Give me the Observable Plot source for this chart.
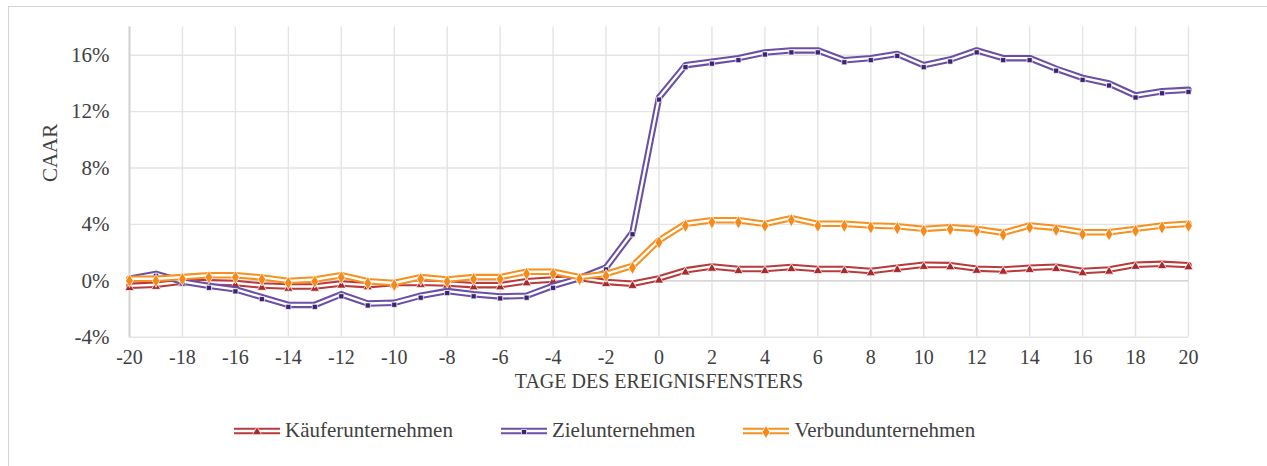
<!DOCTYPE html>
<html>
<head>
<meta charset="utf-8">
<script src="https://cdn.jsdelivr.net/npm/d3@7"></script>
<script src="https://cdn.jsdelivr.net/npm/@observablehq/plot@0.6"></script>
<style>
  html, body { margin: 0; padding: 0; background: #fff; overflow: hidden; }
  #frame { position: absolute; left: 8px; top: 6px; width: 1300px; height: 500px; border: 1px solid #d4d4d4; box-sizing: border-box; }
  #chart { position: absolute; left: 0; top: 0; }
  #legend { position: absolute; left: 232px; top: 418px; display: flex; gap: 46px; align-items: center;
            font-family: 'Liberation Serif', serif; font-size: 21px; color: #404040; }
  .item { display: flex; align-items: center; gap: 3px; white-space: nowrap; }
</style>
</head>
<body>
<div id="frame"></div>
<div id="chart"></div>
<div id="legend"></div>
<script>
const days = [-20,-19,-18,-17,-16,-15,-14,-13,-12,-11,-10,-9,-8,-7,-6,-5,-4,-3,-2,-1,0,1,2,3,4,5,6,7,8,9,10,11,12,13,14,15,16,17,18,19,20];

const kaeufer = [-0.5,-0.42,-0.2,-0.25,-0.3,-0.48,-0.55,-0.55,-0.33,-0.45,-0.3,-0.28,-0.33,-0.45,-0.45,-0.17,-0.05,0.05,-0.22,-0.35,0.03,0.6,0.87,0.7,0.7,0.84,0.7,0.7,0.55,0.78,1.0,0.97,0.72,0.66,0.78,0.85,0.55,0.66,1.0,1.06,0.97];

const ziel = [0.0,0.35,-0.2,-0.5,-0.75,-1.3,-1.85,-1.85,-1.1,-1.75,-1.7,-1.2,-0.87,-1.1,-1.25,-1.2,-0.5,0.05,0.8,3.3,12.85,15.15,15.4,15.65,16.05,16.2,16.2,15.5,15.65,15.95,15.15,15.55,16.2,15.65,15.65,14.9,14.25,13.85,13.0,13.3,13.4];

const verbund = [0.0,0.0,0.12,0.25,0.25,0.1,-0.15,-0.05,0.25,-0.17,-0.3,0.12,-0.05,0.12,0.12,0.5,0.5,0.12,0.35,0.92,2.72,3.9,4.15,4.15,3.9,4.3,3.9,3.9,3.78,3.73,3.54,3.66,3.54,3.26,3.78,3.61,3.3,3.3,3.54,3.78,3.9];

const seriesNames = ["Käuferunternehmen", "Zielunternehmen", "Verbundunternehmen"];
const seriesValues = [kaeufer, ziel, verbund];
const lineColors = ["#b83a3a", "#6a4fa6", "#f7901e"];
const markerColors = ["#a8282b", "#3d2175", "#f5891a"];
const symbols = ["triangle", "square", "diamond"];
const markerR = [3.4, 2.9, 4.0];

const yTicks = [-4, 0, 4, 8, 12, 16];
const xTicks = [-20,-18,-16,-14,-12,-10,-8,-6,-4,-2,0,2,4,6,8,10,12,14,16,18,20];
const xLabel = "TAGE DES EREIGNISFENSTERS";
const yLabel = "CAAR";

const marks = [
  Plot.gridX(xTicks, {stroke: "#e4e4e4", strokeOpacity: 1, strokeWidth: 1.4}),
  Plot.gridY(yTicks, {stroke: "#e4e4e4", strokeOpacity: 1, strokeWidth: 1.4}),
  Plot.ruleX([-20], {stroke: "#d2d2d2", strokeWidth: 2}),
  Plot.ruleY([0], {stroke: "#d6d6d6", strokeWidth: 1.6}),
  Plot.axisY({ticks: yTicks, tickFormat: d => d + "%", tickSize: 0, tickPadding: 20, fontSize: 21, fill: "#404040", label: null}),
  Plot.axisX({ticks: xTicks, tickFormat: d => String(d), tickSize: 0, tickPadding: 13, fontSize: 20, fill: "#404040", label: null}),
  Plot.text([xLabel], {frameAnchor: "bottom", dy: 51, fontSize: 20, fill: "#404040"}),
  Plot.text([yLabel], {frameAnchor: "left", dx: -79, rotate: -90, fontSize: 21, fill: "#404040"})
];

seriesValues.forEach((vals, i) => {
  const data = days.map((d, j) => ({day: d, v: vals[j]}));
  marks.push(
    Plot.line(data, {x: "day", y: "v", stroke: lineColors[i], strokeWidth: 6.5, dy: -2}),
    Plot.line(data, {x: "day", y: "v", stroke: "white", strokeWidth: 2.4, dy: -2}),
    Plot.dot(data, {x: "day", y: "v", symbol: symbols[i], r: markerR[i], fill: markerColors[i], stroke: "white", strokeWidth: 0.7})
  );
});

const chart = Plot.plot({
  width: 1267,
  height: 400,
  marginLeft: 129,
  marginRight: 79,
  marginTop: 26.5,
  marginBottom: 63.3,
  x: {domain: [-20, 20]},
  y: {domain: [-4, 18]},
  style: {fontFamily: "'Liberation Serif', serif", fontSize: "21px", color: "#404040", background: "transparent", overflow: "visible"},
  marks
});
document.getElementById("chart").appendChild(chart);

const legend = document.getElementById("legend");
seriesNames.forEach((name, i) => {
  const item = document.createElement("div");
  item.className = "item";
  const sw = d3.create("svg").attr("width", 50).attr("height", 14);
  sw.append("line").attr("x1", 2).attr("x2", 48).attr("y1", 7).attr("y2", 7)
    .attr("stroke", lineColors[i]).attr("stroke-width", 6.5);
  sw.append("line").attr("x1", 2).attr("x2", 48).attr("y1", 7).attr("y2", 7)
    .attr("stroke", "white").attr("stroke-width", 2.4);
  const sym = {triangle: d3.symbolTriangle, square: d3.symbolSquare, diamond: d3.symbolDiamond}[symbols[i]];
  sw.append("path").attr("transform", "translate(25,8)")
    .attr("d", d3.symbol(sym, Math.PI * markerR[i] * markerR[i])())
    .attr("fill", markerColors[i]).attr("stroke", "white").attr("stroke-width", 0.7);
  item.appendChild(sw.node());
  const span = document.createElement("span");
  span.textContent = name;
  item.appendChild(span);
  legend.appendChild(item);
});
</script>
</body>
</html>
